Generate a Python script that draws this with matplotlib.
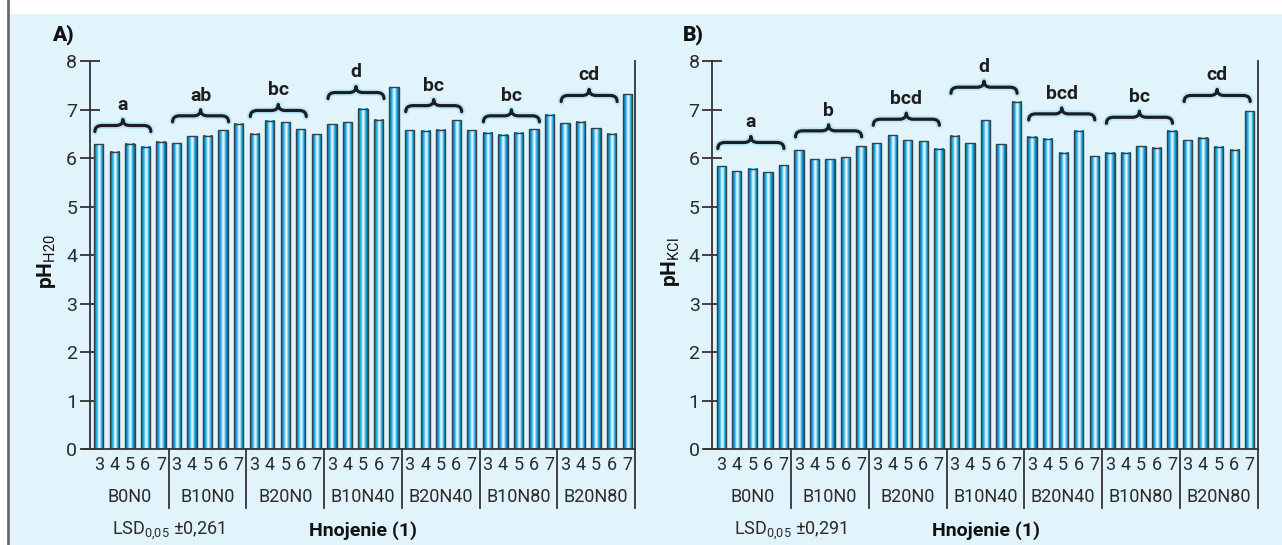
import numpy as np
import matplotlib
matplotlib.use("Agg")
import matplotlib.pyplot as plt
from matplotlib import font_manager as fm
from matplotlib.colors import LinearSegmentedColormap
from matplotlib.patches import Rectangle, PathPatch
from matplotlib.path import Path
import matplotlib.patheffects as pe

# ---------------- data ----------------
groups = ["B0N0", "B10N0", "B20N0", "B10N40", "B20N40", "B10N80", "B20N80"]
depths = ["3", "4", "5", "6", "7"]

ph_h2o = [6.29, 6.13, 6.30, 6.24, 6.34,
          6.31, 6.45, 6.46, 6.58, 6.71,
          6.51, 6.77, 6.74, 6.60, 6.49,
          6.70, 6.74, 7.02, 6.79, 7.46,
          6.58, 6.57, 6.59, 6.78, 6.58,
          6.53, 6.48, 6.53, 6.60, 6.90,
          6.72, 6.75, 6.62, 6.51, 7.32]

ph_kcl = [5.83, 5.73, 5.78, 5.71, 5.85,
          6.16, 5.98, 5.98, 6.02, 6.25,
          6.31, 6.47, 6.37, 6.35, 6.20,
          6.46, 6.31, 6.78, 6.29, 7.17,
          6.44, 6.40, 6.11, 6.57, 6.04,
          6.11, 6.11, 6.25, 6.22, 6.57,
          6.37, 6.42, 6.24, 6.17, 6.97]

letters_h2o = ["a", "ab", "bc", "d", "bc", "bc", "cd"]
letters_kcl = ["a", "b", "bcd", "d", "bcd", "bc", "cd"]

lsd_h2o = "±0,261"
lsd_kcl = "±0,291"

# annotation (brace) heights, in pH units
brace_y_h2o = [6.55, 6.75, 6.86, 7.23, 6.96, 6.75, 7.17]
brace_y_kcl = [6.20, 6.44, 6.68, 7.34, 6.79, 6.72, 7.17]

# ---------------- fonts ----------------
def has_font(name):
    try:
        fm.findfont(fm.FontProperties(family=name), fallback_to_default=False)
        return True
    except Exception:
        return False

NARROW = "Liberation Sans Narrow" if has_font("Liberation Sans Narrow") else "Roboto"
plt.rcParams["font.family"] = [NARROW, "DejaVu Sans"]
plt.rcParams["mathtext.fontset"] = "custom"
plt.rcParams["mathtext.rm"] = NARROW
plt.rcParams["mathtext.bf"] = NARROW + ":bold"
plt.rcParams["mathtext.it"] = NARROW + ":italic"

TXT = "#2b2b2b"
BG = "#e1f3fb"

W, H = 1282, 545
fig = plt.figure(figsize=(W / 100, H / 100), dpi=100, facecolor="white")

# background panel
fig.patches.append(Rectangle((9 / W, 0), 1 - 9 / W, 1 - 14 / H, transform=fig.transFigure,
                             facecolor=BG, edgecolor="none", zorder=-10))
fig.lines.append(plt.Line2D([8 / W, 8 / W], [0, 1], transform=fig.transFigure,
                            color="#6b6b6b", lw=2))

bar_cmap = LinearSegmentedColormap.from_list(
    "barg", ["#24536b", "#0f80b8", "#18a4de", "#45bdec", "#c9eefb", "#eefaff",
             "#96daf5", "#20ace4", "#108cc6", "#1c5470"])
grad = np.linspace(0, 1, 64).reshape(1, -1)


def brace(ax, x0, x1, y0, h, r):
    xm = 0.5 * (x0 + x1)
    ym = y0 + h * 0.5
    top = y0 + h
    verts = [(x0, y0), (x0, ym), (x0 + r, ym),
             (xm - r, ym),
             (xm, ym), (xm, top),
             (xm, ym), (xm + r, ym),
             (x1 - r, ym),
             (x1, ym), (x1, y0)]
    codes = [Path.MOVETO, Path.CURVE3, Path.CURVE3,
             Path.LINETO,
             Path.CURVE3, Path.CURVE3,
             Path.CURVE3, Path.CURVE3,
             Path.LINETO,
             Path.CURVE3, Path.CURVE3]
    p = PathPatch(Path(verts, codes), facecolor="none", edgecolor="#1e1e1e", lw=2.3,
                  capstyle="round", joinstyle="round", zorder=6)
    p.set_path_effects([pe.Stroke(linewidth=5, foreground="#bde8f8"), pe.Normal()])
    ax.add_patch(p)


def panel(left_px, values, letters, brace_y, bx0, bx1, ylabel, tag, lsd, tag_x, ylab_x,
          lsd_x, hn_x):
    ax = fig.add_axes([left_px / W, (H - 449) / H, 544 / W, (449 - 61.3) / H])
    ax.set_facecolor("none")
    n = len(values)
    xs = np.arange(n) + 0.5
    bw = 0.6
    for x, v in zip(xs, values):
        ax.imshow(grad, cmap=bar_cmap, extent=(x - bw / 2, x + bw / 2, 0, v),
                  aspect="auto", interpolation="bilinear", zorder=3)
        ax.add_patch(Rectangle((x - bw / 2, 0), bw, v, facecolor="none",
                               edgecolor="#33434d", lw=1.0, zorder=4))
    ax.set_xlim(0, n)
    ax.set_ylim(0, 8)

    ax.spines["top"].set_visible(False)
    for s in ["left", "bottom", "right"]:
        ax.spines[s].set_color("#333333")
        ax.spines[s].set_linewidth(1.3)
        ax.spines[s].set_zorder(5)
    ax.spines["left"].set_position(("outward", 1))

    ax.set_yticks(range(0, 9))
    ax.tick_params(axis="y", direction="inout", length=14, width=1.3, color="#333333",
                   labelsize=14, labelcolor=TXT, pad=2)
    ax.set_xticks(xs)
    ax.set_xticklabels(depths * len(groups))
    ax.tick_params(axis="x", length=0, labelsize=13, labelcolor=TXT, pad=5)

    tb = ax.get_xaxis_transform()
    ng = len(groups)
    gsize = len(depths)
    for g in range(1, ng + 1):
        ax.plot([g * gsize, g * gsize], [0, -0.152], transform=tb, color="#333333",
                lw=1.3, clip_on=False, zorder=5)
    ax.plot([-0.015, 0], [0, 0], transform=ax.transAxes, color="#333333", lw=1.3,
            clip_on=False)
    for g, name in enumerate(groups):
        ax.text(g * gsize + gsize / 2, -0.124, name, transform=tb, ha="center",
                va="center", fontsize=13, color=TXT)
        x0 = g * gsize + bx0
        x1 = g * gsize + bx1
        brace(ax, x0, x1, brace_y[g], 0.25, 0.45)
        ax.text(0.5 * (x0 + x1), brace_y[g] + 0.54, letters[g], ha="center", va="center",
                fontsize=14, fontweight="bold", color="#1e1e1e", zorder=6)

    fig.text(tag_x / W, 1 - 35 / H, tag, fontsize=15, fontweight="black",
             color="#111111", ha="left", va="center")
    fig.text(ylab_x / W, 1 - 262 / H, ylabel, fontsize=15, rotation=90, ha="center",
             va="center", color="#111111")
    fig.text(lsd_x / W, 1 - 531 / H, r"LSD$_{\mathrm{0{,}05}}$ " + lsd, fontsize=13,
             ha="left", va="center", color=TXT)
    fig.text(hn_x / W, 1 - 531 / H, "Hnojenie (1)", fontsize=14, fontweight="bold",
             ha="center", va="center", color="#111111")
    return ax


panel(91, ph_h2o, letters_h2o, brace_y_h2o, 0.25, 3.85,
      r"$\mathbf{pH}_{\mathrm{H20}}$", "A)", lsd_h2o, 52, 47, 112, 363)
panel(713.5, ph_kcl, letters_kcl, brace_y_kcl, 0.28, 4.53,
      r"$\mathbf{pH}_{\mathrm{KCl}}$", "B)", lsd_kcl, 683, 670, 734, 986)

fig.savefig("out.png", dpi=100, facecolor="white")
